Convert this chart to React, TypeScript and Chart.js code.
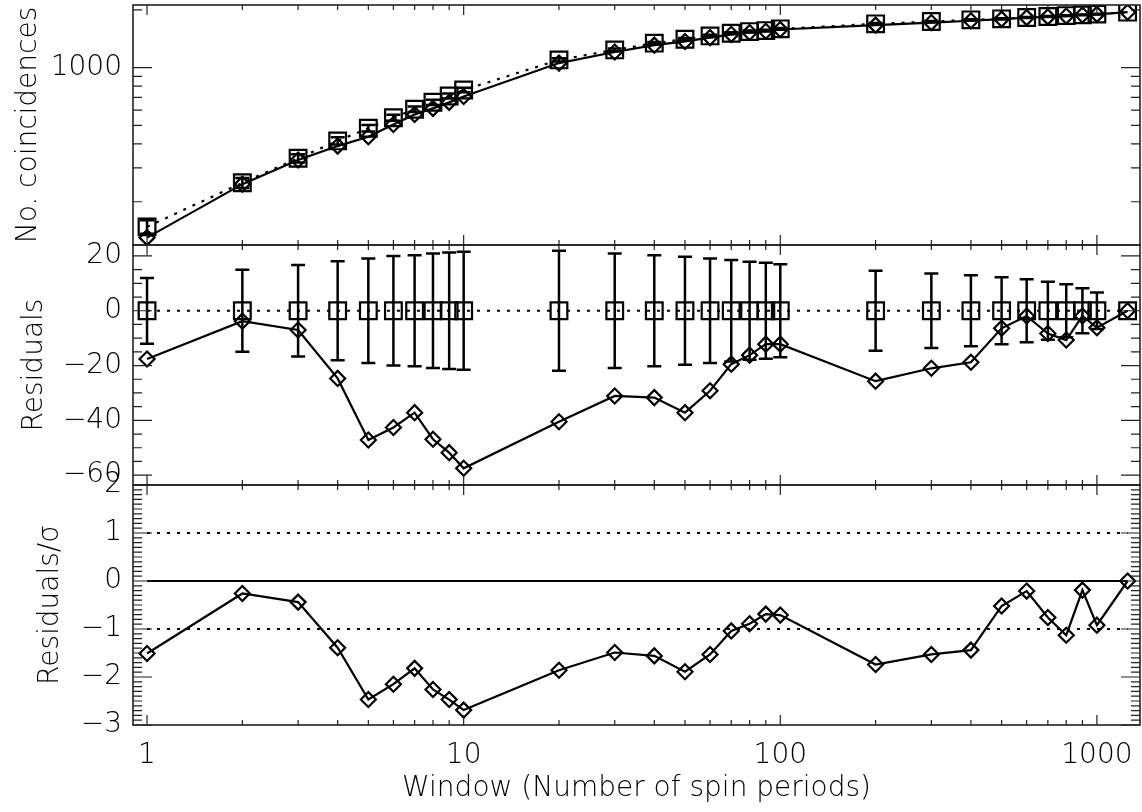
import React, { useEffect, useRef } from 'react';
import { Chart, registerables } from 'chart.js';

Chart.register(...registerables);

// ---------- data ----------
const WINDOWS = [1, 2, 3, 4, 5, 6, 7, 8, 9, 10, 20, 30, 40, 50, 60, 70, 80, 90, 100, 200, 300, 400, 500, 600, 700, 800, 900, 1000, 1250];
const MODEL_COUNTS = [148, 251, 337, 415, 483, 548, 607, 660, 711, 765, 1097, 1237, 1341, 1406, 1463, 1511, 1541, 1559, 1592, 1691, 1738, 1774, 1795, 1824, 1846, 1867, 1883, 1900, 1945];
const OBSERVED_COUNTS = [130, 247, 330, 390, 436, 505, 570, 613, 659, 707, 1056, 1206, 1309, 1369, 1434, 1491, 1525, 1547, 1580, 1665, 1717, 1755, 1789, 1822, 1838, 1856, 1881, 1894, 1945];
const SIGMA = [12, 15, 16.7, 18.1, 19.1, 20, 20.3, 20.9, 21.3, 21.5, 21.9, 20.9, 20.3, 19.7, 19.1, 18.5, 17.9, 17.5, 17, 14.6, 13.6, 13, 12.2, 11.5, 10.6, 9.7, 8.2, 6.7, 0];
const MODEL_RESIDUALS = [0, 0, 0, 0, 0, 0, 0, 0, 0, 0, 0, 0, 0, 0, 0, 0, 0, 0, 0, 0, 0, 0, 0, 0, 0, 0, 0, 0, 0];
const RESIDUALS = [-17.6, -3.8, -7, -24.7, -47.2, -42.6, -37.2, -46.9, -51.8, -57.5, -40.5, -31.1, -31.7, -37.2, -29.2, -19.5, -16.2, -12.2, -12.2, -25.7, -21, -18.8, -6.4, -1.9, -8.3, -10.7, -1.9, -6.2, 0];
const NORM_RESIDUALS = [-1.51, -0.26, -0.44, -1.39, -2.47, -2.15, -1.82, -2.26, -2.47, -2.69, -1.86, -1.49, -1.56, -1.89, -1.53, -1.04, -0.89, -0.69, -0.71, -1.74, -1.53, -1.44, -0.52, -0.21, -0.76, -1.13, -0.19, -0.92, 0];
const REF_X = [1, 1250];
const REF_ZERO = [0, 0];
const REF_PLUS = [1, 1];
const REF_MINUS = [-1, -1];

// ---------- ticks ----------
const X_LABEL_TICKS = [1, 10, 100, 1000];
const X_MINOR_TICKS = [1, 2, 3, 4, 5, 6, 7, 8, 9, 10, 20, 30, 40, 50, 60, 70, 80, 90, 100, 200, 300, 400, 500, 600, 700, 800, 900, 1000];
const TOP_LABEL_TICKS = [1000];
const TOP_MINOR_TICKS = [200, 300, 400, 500, 600, 700, 800, 900, 2000];
const MID_LABEL_TICKS = [20, 0, -20, -40, -60];
const MID_MINOR_STEP = 5;
const BOT_LABEL_TICKS = [2, 1, 0, -1, -2, -3];
const BOT_MINOR_STEP = 0.1;

const FONT_FAMILY = '"DejaVu Sans", sans-serif';
const FONT_SIZE = 28;
const INK = '#000';

const pts = (xs: number[], ys: number[]) => xs.map((x, i) => ({ x, y: ys[i] }));
const fmt = (v: number) => (v < 0 ? '\u2212' + Math.abs(v) : String(v));

const errorBarPlugin = {
  id: 'errorBars',
  afterDatasetsDraw(chart: any) {
    const ctx = chart.ctx;
    const xs = chart.scales.x;
    ctx.save();
    ctx.strokeStyle = INK;
    ctx.lineWidth = 2.5;
    ctx.setLineDash([]);
    chart.data.datasets.forEach((ds: any) => {
      const err = ds.errors;
      if (!err) return;
      const ys = chart.scales[ds.yAxisID];
      ds.data.forEach((p: any, j: number) => {
        const e = err[j];
        if (!e) return;
        const px = xs.getPixelForValue(p.x);
        const y1 = ys.getPixelForValue(p.y + e);
        const y2 = ys.getPixelForValue(p.y - e);
        const cap = 7;
        ctx.beginPath();
        ctx.moveTo(px, y1);
        ctx.lineTo(px, y2);
        ctx.moveTo(px - cap, y1);
        ctx.lineTo(px + cap, y1);
        ctx.moveTo(px - cap, y2);
        ctx.lineTo(px + cap, y2);
        ctx.stroke();
      });
    });
    ctx.restore();
  },
};

function stepTicks(min: number, max: number, step: number) {
  const out: number[] = [];
  const n0 = Math.ceil(min / step - 1e-6);
  const n1 = Math.floor(max / step + 1e-6);
  for (let n = n0; n <= n1; n++) out.push(n * step);
  return out;
}

const framePlugin = {
  id: 'frames',
  afterDraw(chart: any) {
    const ctx = chart.ctx;
    const xs = chart.scales.x;
    const { left, right } = chart.chartArea;
    const panels = [
      { id: 'yTop', major: TOP_LABEL_TICKS, minor: TOP_MINOR_TICKS },
      { id: 'yMid', major: MID_LABEL_TICKS, minor: stepTicks(-63.6, 24, MID_MINOR_STEP) },
      { id: 'yBot', major: BOT_LABEL_TICKS, minor: stepTicks(-3, 2, BOT_MINOR_STEP) },
    ];
    ctx.save();
    ctx.setLineDash([]);
    ctx.strokeStyle = '#222';
    panels.forEach((p) => {
      const s = chart.scales[p.id];
      const top = s.top;
      const bottom = s.bottom;
      ctx.lineWidth = 1.6;
      ctx.strokeRect(left, top, right - left, bottom - top);
      ctx.lineWidth = 1.2;
      ctx.beginPath();
      X_MINOR_TICKS.forEach((v) => {
        const px = xs.getPixelForValue(v);
        if (px < left || px > right) return;
        const len = X_LABEL_TICKS.includes(v) ? 10 : 5;
        ctx.moveTo(px, top);
        ctx.lineTo(px, top + len);
        ctx.moveTo(px, bottom);
        ctx.lineTo(px, bottom - len);
      });
      const yTick = (v: number, len: number) => {
        const py = s.getPixelForValue(v);
        if (py < top - 0.5 || py > bottom + 0.5) return;
        ctx.moveTo(left, py);
        ctx.lineTo(left + len, py);
        ctx.moveTo(right, py);
        ctx.lineTo(right - len, py);
      };
      p.minor.forEach((v) => {
        if (p.major.some((m) => Math.abs(m - v) < 1e-6)) return;
        yTick(v, 9);
      });
      p.major.forEach((v) => yTick(v, 19));
      ctx.stroke();
    });
    ctx.restore();
  },
};

const font = { family: FONT_FAMILY, size: FONT_SIZE, weight: '200' as any };

function zeroPadding(s: any) {
  s.paddingTop = 0;
  s.paddingBottom = 0;
  s.paddingLeft = 0;
  s.paddingRight = 0;
}

function yAxis(type: string, min: number, max: number, labels: number[], title: string, titlePad: number, weight: number) {
  return {
    type,
    position: 'left',
    stack: 'panels',
    stackWeight: 1,
    weight,
    min,
    max,
    grid: { display: false, drawTicks: false },
    border: { display: false },
    afterBuildTicks: (s: any) => {
      s.ticks = labels.map((v) => ({ value: v }));
    },
    afterFit: (s: any) => {
      s.width = 133;
      zeroPadding(s);
    },
    ticks: {
      autoSkip: false,
      padding: 11,
      color: INK,
      font,
      callback: (v: any) => fmt(Number(v)),
    },
    title: {
      display: true,
      text: title,
      color: INK,
      font,
      padding: { top: titlePad, bottom: 0 },
    },
  };
}

export default function App() {
  const ref = useRef<HTMLCanvasElement | null>(null);

  useEffect(() => {
    if (!ref.current) return;
    const lineBase = {
      type: 'line',
      xAxisID: 'x',
      borderColor: INK,
      borderWidth: 2.2,
      fill: false,
      tension: 0,
      pointBorderColor: INK,
      pointBackgroundColor: 'rgba(0,0,0,0)',
      pointBorderWidth: 2.2,
      pointHoverRadius: 0,
    };
    const dotted = [3, 7];
    const chart = new Chart(ref.current, {
      type: 'line',
      data: {
        datasets: [
          // top panel
          { ...lineBase, yAxisID: 'yTop', data: pts(WINDOWS, MODEL_COUNTS), borderDash: dotted, pointStyle: 'rect', pointRadius: 11.8, errors: SIGMA } as any,
          { ...lineBase, yAxisID: 'yTop', data: pts(WINDOWS, OBSERVED_COUNTS), pointStyle: 'rectRot', pointRadius: 7.5 } as any,
          // middle panel
          { ...lineBase, yAxisID: 'yMid', data: pts(WINDOWS, MODEL_RESIDUALS), borderDash: dotted, pointStyle: 'rect', pointRadius: 11.8, errors: SIGMA } as any,
          { ...lineBase, yAxisID: 'yMid', data: pts(WINDOWS, RESIDUALS), pointStyle: 'rectRot', pointRadius: 7.5 } as any,
          // bottom panel
          { ...lineBase, yAxisID: 'yBot', data: pts(REF_X, REF_PLUS), borderDash: dotted, pointRadius: 0 } as any,
          { ...lineBase, yAxisID: 'yBot', data: pts(REF_X, REF_MINUS), borderDash: dotted, pointRadius: 0 } as any,
          { ...lineBase, yAxisID: 'yBot', data: pts(REF_X, REF_ZERO), pointRadius: 0 } as any,
          { ...lineBase, yAxisID: 'yBot', data: pts(WINDOWS, NORM_RESIDUALS), pointStyle: 'rectRot', pointRadius: 7.5 } as any,
        ],
      },
      options: {
        responsive: false,
        animation: false,
        devicePixelRatio: 1,
        layout: { autoPadding: false, padding: { top: 5, right: 2, left: 0, bottom: 0 } },
        plugins: {
          legend: { display: false },
          tooltip: { enabled: false },
        },
        events: [],
        scales: {
          x: {
            type: 'logarithmic',
            position: 'bottom',
            min: 0.903,
            max: 1368,
            grid: { display: false, drawTicks: false },
            border: { display: false },
            afterBuildTicks: (s: any) => {
              s.ticks = X_LABEL_TICKS.map((v) => ({ value: v }));
            },
            afterFit: (s: any) => {
              s.height = 87;
              zeroPadding(s);
            },
            ticks: {
              autoSkip: false,
              maxRotation: 0,
              padding: 14,
              color: INK,
              font,
              callback: (v: any) => String(v),
            },
            title: {
              display: true,
              text: 'Window (Number of spin periods)',
              color: INK,
              font,
              padding: { top: 0, bottom: 6 },
            },
          },
          yTop: yAxis('logarithmic', 119, 2120, TOP_LABEL_TICKS, 'No. coincidences', 12, 3) as any,
          yMid: yAxis('linear', -63.6, 24, MID_LABEL_TICKS, 'Residuals', 18, 2) as any,
          yBot: yAxis('linear', -3, 2, BOT_LABEL_TICKS, 'Residuals/\u03c3', 34, 1) as any,
        },
      } as any,
      plugins: [errorBarPlugin, framePlugin],
    });
    return () => chart.destroy();
  }, []);

  return (
    <div style={{ position: 'absolute', left: 0, top: 0, width: 1142, height: 812, background: '#fff' }}>
      <canvas ref={ref} width={1142} height={812} style={{ width: 1142, height: 812, display: 'block' }} />
    </div>
  );
}
